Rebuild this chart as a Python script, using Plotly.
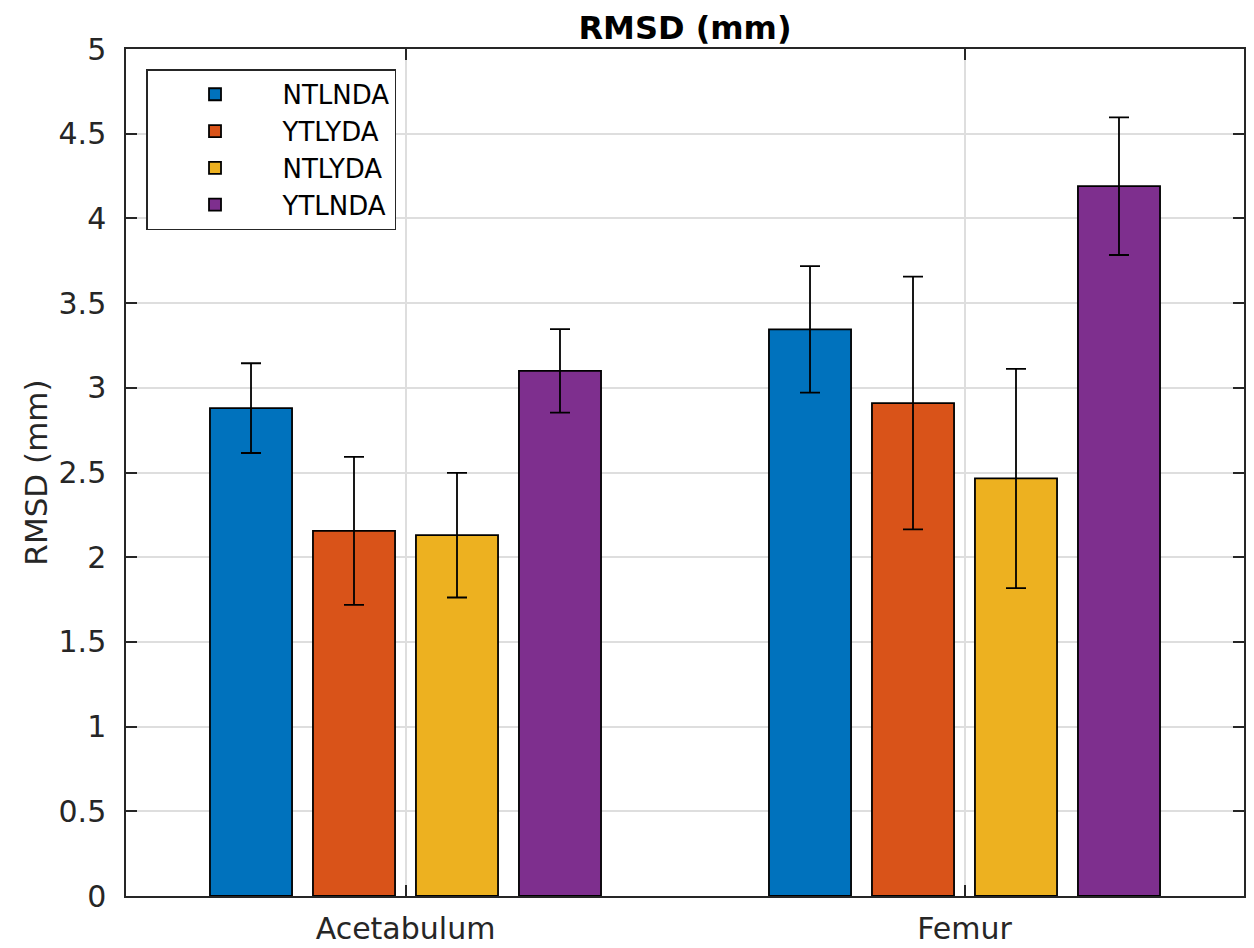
import plotly.graph_objects as go

categories = ["Acetabulum", "Femur"]
series_names = ["NTLNDA", "YTLYDA", "NTLYDA", "YTLNDA"]
series_colors = ["#0072BD", "#D95319", "#EDB120", "#7E2F8E"]

ntlnda = [2.88, 3.345]
ytlyda = [2.155, 2.91]
ntlyda = [2.13, 2.465]
ytlnda = [3.10, 4.19]

ntlnda_err = [0.265, 0.373]
ytlyda_err = [0.437, 0.746]
ntlyda_err = [0.368, 0.647]
ytlnda_err = [0.246, 0.406]

y_ticks = [0, 0.5, 1, 1.5, 2, 2.5, 3, 3.5, 4, 4.5, 5]
y_tick_labels = ["0", "0.5", "1", "1.5", "2", "2.5", "3", "3.5", "4", "4.5", "5"]

values = [ntlnda, ytlyda, ntlyda, ytlnda]
errors = [ntlnda_err, ytlyda_err, ntlyda_err, ytlnda_err]

FONT = "DejaVu Sans"
AX = "#262626"

W, H = 1246, 940

fig = go.Figure()
for name, color, vals, errs in zip(series_names, series_colors, values, errors):
    fig.add_trace(go.Bar(
        x=categories, y=vals, name=name,
        marker=dict(color=color, line=dict(color="#000000", width=1.8)),
        error_y=dict(type="data", array=errs, visible=True,
                     color="#000000", thickness=1.8, width=10),
    ))

fig.update_layout(
    width=W, height=H,
    margin=dict(l=118, r=10, t=41, b=52),
    paper_bgcolor="white", plot_bgcolor="white",
    barmode="group", bargap=0.263, bargroupgap=0.203,
    font=dict(family=FONT, color=AX, size=30),
    title=dict(text="<b>RMSD (mm)</b>", x=677 / W, xanchor="center",
               y=1 - 20 / H, yref="container", yanchor="middle",
               font=dict(family=FONT, size=32, color="#000000")),
    legend=dict(x=0.0179, y=0.976, xanchor="left", yanchor="top",
                bgcolor="white", bordercolor=AX, borderwidth=1.5,
                font=dict(family=FONT, size=26, color="#000000"),
                tracegroupgap=0, itemwidth=125),
    showlegend=True,
)

fig.update_xaxes(
    type="category", range=[-0.5, 1.5], automargin=False,
    showline=True, linecolor=AX, linewidth=1.5, mirror="ticks",
    ticks="inside", ticklen=11, tickcolor=AX, tickwidth=1.5,
    showgrid=True, gridcolor="#dedede", gridwidth=1.5,
    tickfont=dict(family=FONT, size=30, color=AX),
    ticklabelstandoff=5,
)
fig.update_yaxes(
    range=[0, 5], tickvals=y_ticks, ticktext=y_tick_labels, automargin=False,
    showline=True, linecolor=AX, linewidth=1.5, mirror="ticks",
    ticks="inside", ticklen=11, tickcolor=AX, tickwidth=1.5,
    showgrid=True, gridcolor="#dedede", gridwidth=1.5, zeroline=False,
    tickfont=dict(family=FONT, size=30, color=AX),
    ticklabelstandoff=12,
    title=dict(text="RMSD (mm)", standoff=2,
               font=dict(family=FONT, size=31, color=AX)),
)

fig.write_html("out.html")
